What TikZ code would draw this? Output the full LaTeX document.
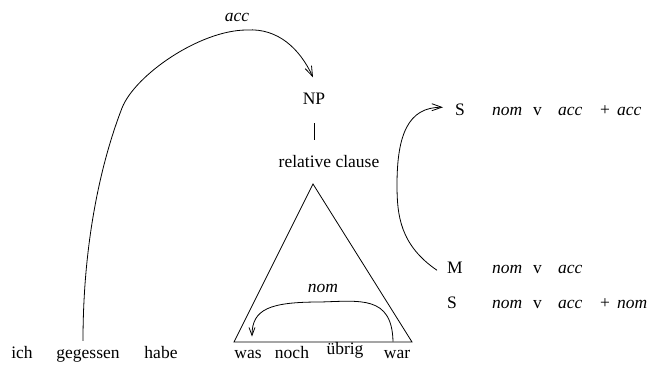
\documentclass[tikz,border=0pt]{standalone}
\usepackage{fontspec}
\setmainfont{Liberation Serif}
\usetikzlibrary{positioning, arrows.meta}

\begin{document}
\begin{tikzpicture}[x=1pt, y=1pt]
	% Styles
	\tikzset{
		word/.style={anchor=base, inner sep=3pt, font=\fontsize{17.5}{21}\selectfont},
		tag/.style={anchor=base west, inner sep=0pt, font=\fontsize{17.5}{21}\selectfont},
		case/.style={tag, font=\fontsize{17.5}{21}\selectfont\itshape},
		link/.style={line width=0.8pt},
		arrow/.style={link, -{Straight Barb[length=10pt, width=7pt]}}
	}
	\useasboundingbox (0,0) rectangle (647,365);
	
	% Sentence at the bottom
	\node[word] (ich) at (22,7) {ich};
	\node[word] (gegessen) at (88,7) {gegessen};
	\node[word] (habe) at (161,7) {habe};
	\node[word] (was) at (248,7) {was};
	\node[word] (noch) at (292,7) {noch};
	\node[word] (uebrig) at (345,11) {übrig};
	\node[word] (war) at (397,7) {war};
	
	% NP and relative clause
	\node[word] (NP) at (314,261) {NP};
	\node[word] (rel) at (329,198) {relative clause};
	\draw[link, shorten <=16pt, shorten >=12pt] (NP.south) -- (NP.south |- rel.north);
	
	% Triangle over the relative clause
	\coordinate (apex) at (313,181);
	\coordinate (baseL) at (234,23);
	\coordinate (baseR) at (412,23);
	\draw[link] (apex) -- (baseL) -- (baseR) -- cycle;
	
	% acc: gegessen -> NP
	\node[case, anchor=center] (acclabel) at (237,348) {acc};
	\draw[arrow] ([shift={(-5,5)}]gegessen.north) .. controls (83,120) and (100,200) .. (122,257)
		.. controls (135,290) and (200,335) .. (247,335)
		.. controls (278,337) and (300,316) .. ([shift={(-1,12)}]NP.north);
	
	% nom: war -> was
	\node[case, anchor=center] (nomlabel) at (323,77) {nom};
	\draw[arrow, -{Straight Barb[length=8pt, width=6pt]}] ([shift={(-4,5)}]war.north) .. controls (392,70) and (360,64) .. (320,63)
		.. controls (270,63) and (252,56) .. ([shift={(4,10)}]was.north);
	
	% Rows on the right
	\node[tag] (S1) at (455,250) {S};
	\node[tag] (M) at (447,92) {M};
	\node[tag] (S2) at (447,57) {S};
	\foreach \r/\yy in {1/250, 2/92, 3/57} {
		\node[case] (nom\r) at (492,\yy) {nom};
		\node[tag] (v\r) at (533,\yy) {v};
		\node[case] (acc\r) at (558,\yy) {acc};
	}
	\node[tag] (plus1) at (600,250) {+};
	\node[case] (extra1) at (617,250) {acc};
	\node[tag] (plus3) at (600,57) {+};
	\node[case] (extra3) at (617,57) {nom};
	
	% M -> S
	\draw[arrow] ([shift={(-10,-3)}]M.west) .. controls (400,120) and (397,150) .. (397,180)
		.. controls (397,230) and (408,258) .. ([shift={(-12,2)}]S1.west);
	
\end{tikzpicture}
\end{document}
